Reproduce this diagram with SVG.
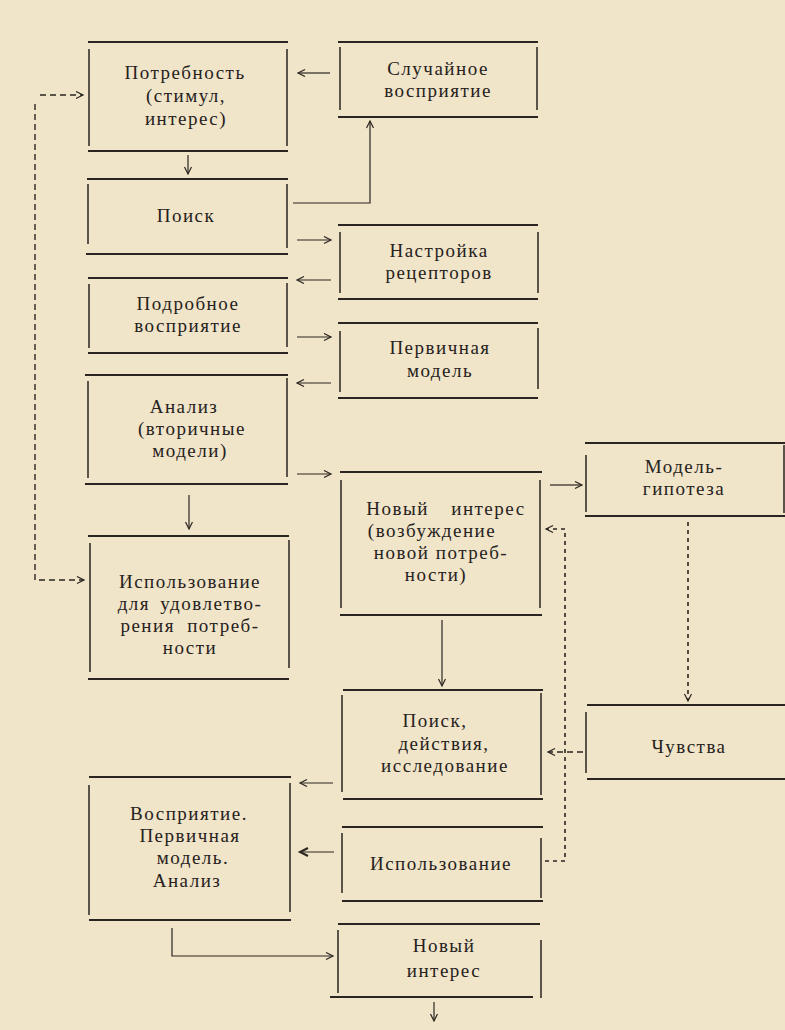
<svg xmlns="http://www.w3.org/2000/svg" width="785" height="1030" viewBox="0 0 785 1030">
<defs>
<style>
.h{stroke:#2a2520;stroke-width:1.8;fill:none}
.v{stroke:#2a2520;stroke-width:1.5;fill:none}
.c{stroke:#2a2520;stroke-width:1.2;fill:none}
.d{stroke:#2a2520;stroke-width:1.4;fill:none;stroke-dasharray:6 4}
.dt{stroke:#2a2520;stroke-width:1.6;fill:none;stroke-dasharray:4 4}
text{font-family:"Liberation Serif","Times New Roman",serif;font-size:19px;fill:#262220;text-anchor:middle;letter-spacing:1.5px}
</style>
<marker id="a" markerUnits="userSpaceOnUse" markerWidth="10" markerHeight="10" refX="8" refY="4" orient="auto">
<path d="M1,0.5 L8,4 L1,7.5" fill="none" stroke="#2a2520" stroke-width="1.2"/>
</marker>
<marker id="ab" markerUnits="userSpaceOnUse" markerWidth="12" markerHeight="12" refX="9" refY="5" orient="auto">
<path d="M1,1 L9,5 L1,9" fill="none" stroke="#2a2520" stroke-width="2"/>
</marker>
</defs>
<rect width="785" height="1030" fill="#f0e4c9"/>

<g id="connectors">
<line class="c" x1="330" y1="73" x2="298" y2="73" marker-end="url(#a)"/>
<line class="c" x1="188" y1="155" x2="188" y2="174" marker-end="url(#a)"/>
<path class="c" d="M293,203 H370 V121" marker-end="url(#a)"/>
<line class="c" x1="297" y1="240" x2="331" y2="240" marker-end="url(#a)"/>
<line class="c" x1="331" y1="280" x2="297" y2="280" marker-end="url(#a)"/>
<line class="c" x1="297" y1="337" x2="331" y2="337" marker-end="url(#a)"/>
<line class="c" x1="331" y1="383" x2="297" y2="383" marker-end="url(#a)"/>
<line class="c" x1="297" y1="474" x2="331" y2="474" marker-end="url(#a)"/>
<line class="c" x1="189" y1="495" x2="189" y2="529" marker-end="url(#a)"/>
<line class="d" x1="40" y1="95" x2="83" y2="95" marker-end="url(#a)"/>
<path class="d" d="M35,104 V580 H84" marker-end="url(#a)"/>
<line class="c" x1="550" y1="485" x2="582" y2="485" marker-end="url(#a)"/>
<line class="dt" x1="688" y1="522" x2="688" y2="701" marker-end="url(#a)"/>
<line class="c" x1="442" y1="620" x2="442" y2="686" marker-end="url(#a)"/>
<line class="d" x1="583" y1="752" x2="548" y2="752" marker-end="url(#a)"/>
<path class="dt" d="M545,861 H565 V529 H546" marker-end="url(#a)"/>
<line class="c" x1="333" y1="783" x2="300" y2="783" marker-end="url(#a)"/>
<line class="c" x1="334" y1="852" x2="300" y2="852" stroke-width="2.6" marker-end="url(#ab)"/>
<path class="c" d="M172,928 V956 H333" marker-end="url(#a)"/>
<line class="c" x1="434" y1="1002" x2="434" y2="1021" marker-end="url(#a)"/>
</g>

<g id="n1">
<line class="h" x1="88" y1="42" x2="288" y2="42"/><line class="h" x1="88" y1="151" x2="288" y2="151"/>
<line class="v" x1="89" y1="49" x2="89" y2="146"/><line class="v" x1="287" y1="49" x2="287" y2="146"/>
<text x="185" y="79">Потребность</text><text x="186" y="102">(стимул,</text><text x="186" y="125">интерес)</text>
</g>
<g id="n2">
<line class="h" x1="338" y1="42" x2="538" y2="42"/><line class="h" x1="338" y1="117" x2="538" y2="117"/>
<line class="v" x1="340" y1="47" x2="340" y2="110"/><line class="v" x1="537" y1="47" x2="537" y2="110"/>
<text x="438" y="75">Случайное</text><text x="438" y="97">восприятие</text>
</g>
<g id="n3">
<line class="h" x1="87" y1="179" x2="288" y2="179"/><line class="h" x1="86" y1="254" x2="288" y2="254"/>
<line class="v" x1="88" y1="184" x2="88" y2="244"/><line class="v" x1="287" y1="184" x2="287" y2="248"/>
<text x="186" y="222">Поиск</text>
</g>
<g id="n4">
<line class="h" x1="338" y1="225" x2="538" y2="225"/><line class="h" x1="338" y1="299" x2="538" y2="299"/>
<line class="v" x1="340" y1="232" x2="340" y2="293"/><line class="v" x1="538" y1="232" x2="538" y2="293"/>
<text x="439" y="257">Настройка</text><text x="439" y="279">рецепторов</text>
</g>
<g id="n5">
<line class="h" x1="88" y1="278" x2="288" y2="278"/><line class="h" x1="88" y1="353" x2="288" y2="353"/>
<line class="v" x1="89" y1="284" x2="89" y2="348"/><line class="v" x1="287" y1="283" x2="287" y2="347"/>
<text x="188" y="310">Подробное</text><text x="188" y="332">восприятие</text>
</g>
<g id="n6">
<line class="h" x1="338" y1="323" x2="538" y2="323"/><line class="h" x1="338" y1="398" x2="538" y2="398"/>
<line class="v" x1="340" y1="331" x2="340" y2="392"/><line class="v" x1="538" y1="328" x2="538" y2="389"/>
<text x="440" y="354">Первичная</text><text x="440" y="377">модель</text>
</g>
<g id="n7">
<line class="h" x1="85" y1="375" x2="288" y2="375"/><line class="h" x1="85" y1="484" x2="288" y2="484"/>
<line class="v" x1="88" y1="381" x2="88" y2="478"/><line class="v" x1="287" y1="378" x2="287" y2="477"/>
<text x="184" y="413">Анализ</text><text x="192" y="435">(вторичные</text><text x="190" y="457">модели)</text>
</g>
<g id="n8">
<line class="h" x1="88" y1="536" x2="289" y2="536"/><line class="h" x1="88" y1="679" x2="289" y2="679"/>
<line class="v" x1="90" y1="543" x2="90" y2="672"/><line class="v" x1="289" y1="540" x2="289" y2="668"/>
<text x="190" y="588">Использование</text><text x="190" y="610" word-spacing="4">для удовлетво-</text><text x="190" y="632" word-spacing="6">рения потреб-</text><text x="190" y="654">ности</text>
</g>
<g id="n9">
<line class="h" x1="340" y1="472" x2="542" y2="472"/><line class="h" x1="340" y1="615" x2="542" y2="615"/>
<line class="v" x1="341" y1="480" x2="341" y2="608"/><line class="v" x1="540" y1="480" x2="540" y2="608"/>
<text x="446" y="515" word-spacing="16">Новый интерес</text><text x="432" y="537">(возбуждение</text><text x="441" y="559">новой потреб-</text><text x="436" y="581">ности)</text>
</g>
<g id="n10">
<line class="h" x1="585" y1="443" x2="785" y2="443"/><line class="h" x1="585" y1="516" x2="785" y2="516"/>
<line class="v" x1="586" y1="455" x2="586" y2="512"/><line class="v" x1="784" y1="445" x2="784" y2="513"/>
<text x="684" y="473">Модель-</text><text x="684" y="495">гипотеза</text>
</g>
<g id="n11">
<line class="h" x1="587" y1="705" x2="785" y2="705"/><line class="h" x1="587" y1="779" x2="785" y2="779"/>
<line class="v" x1="586" y1="712" x2="586" y2="773"/>
<text x="689" y="753">Чувства</text>
</g>
<g id="n12">
<line class="h" x1="343" y1="690" x2="543" y2="690"/><line class="h" x1="343" y1="799" x2="543" y2="799"/>
<line class="v" x1="342" y1="695" x2="342" y2="792"/><line class="v" x1="541" y1="693" x2="541" y2="795"/>
<text x="435" y="727">Поиск,</text><text x="444" y="750">действия,</text><text x="445" y="772">исследование</text>
</g>
<g id="n13">
<line class="h" x1="342" y1="827" x2="543" y2="827"/><line class="h" x1="342" y1="901" x2="543" y2="901"/>
<line class="v" x1="342" y1="833" x2="342" y2="893"/><line class="v" x1="541" y1="838" x2="541" y2="898"/>
<text x="441" y="870">Использование</text>
</g>
<g id="n14">
<line class="h" x1="89" y1="777" x2="291" y2="777"/><line class="h" x1="89" y1="920" x2="291" y2="920"/>
<line class="v" x1="89" y1="785" x2="89" y2="915"/><line class="v" x1="290" y1="783" x2="290" y2="912"/>
<text x="189" y="820">Восприятие.</text><text x="190" y="842">Первичная</text><text x="193" y="864">модель.</text><text x="187" y="887">Анализ</text>
</g>
<g id="n15">
<line class="h" x1="338" y1="924" x2="540" y2="924"/><line class="h" x1="330" y1="997" x2="533" y2="997"/>
<line class="v" x1="338" y1="930" x2="338" y2="993"/><line class="v" x1="541" y1="940" x2="541" y2="998"/>
<text x="444" y="952">Новый</text><text x="444" y="977">интерес</text>
</g>
</svg>
